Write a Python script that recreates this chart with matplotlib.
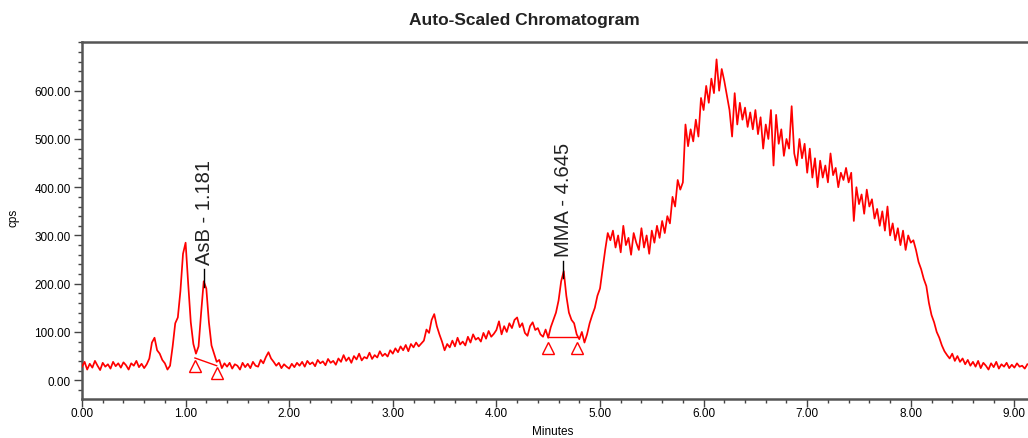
import matplotlib
matplotlib.use("Agg")
import matplotlib.pyplot as plt
from matplotlib.ticker import MultipleLocator, FormatStrFormatter
import numpy as np

# sampling step of the trace (minutes)
dt = 0.025

# detector signal (cps), one row per half minute
cps = [
    28, 38, 22, 34, 26, 40, 30, 21, 36, 28, 33, 24, 38, 29, 35, 26, 37, 31, 22, 35,
    30, 40, 27, 34, 25, 33, 45, 78, 88, 62, 55, 42, 35, 22, 30, 70, 118, 130, 185, 262,
    285, 200, 120, 75, 55, 70, 140, 205, 190, 120, 72, 55, 38, 42, 25, 35, 28, 36, 24, 33,
    30, 22, 36, 27, 34, 25, 38, 30, 28, 42, 35, 48, 58, 45, 38, 30, 36, 25, 33, 28,
    24, 34, 27, 36, 30, 38, 28, 40, 33, 37, 29, 42, 35, 39, 31, 44, 36, 40, 32, 45,
    38, 52, 40, 47, 36, 50, 43, 55, 41, 48, 45, 57, 44, 52, 47, 60, 50, 55, 49, 62,
    55, 66, 58, 70, 62, 73, 60, 75, 68, 78, 70, 76, 82, 105, 98, 125, 137, 112, 95, 80,
    62, 75, 68, 82, 70, 88, 74, 80, 72, 90, 78, 95, 84, 88, 80, 98, 86, 102, 90, 96,
    104, 122, 95, 112, 100, 118, 108, 125, 130, 110, 118, 98, 92, 112, 120, 104, 108, 95, 90, 105,
    88, 110, 125, 140, 165, 205, 226, 175, 140, 125, 118, 95, 85, 100, 78, 95, 118, 135, 150, 175,
    190, 230, 270, 305, 290, 310, 275, 300, 265, 320, 280, 295, 260, 305, 285, 270, 315, 275, 300, 262,
    310, 285, 320, 295, 330, 305, 340, 325, 380, 360, 415, 395, 410, 530, 485, 520, 495, 540, 505, 585,
    560, 610, 575, 625, 595, 665, 600, 645, 620, 590, 560, 505, 595, 530, 575, 540, 565, 525, 555, 520,
    560, 510, 545, 480, 530, 500, 560, 445, 550, 490, 520, 465, 500, 480, 568, 470, 445, 500, 460, 490,
    430, 480, 420, 460, 400, 455, 420, 445, 410, 470, 425, 440, 400, 430, 415, 440, 410, 430, 330, 400,
    365, 385, 345, 395, 360, 375, 335, 355, 320, 350, 310, 360, 300, 325, 290, 315, 280, 310, 270, 300,
    285, 290, 270, 245, 230, 210, 195, 160, 135, 120, 100, 88, 72, 60, 52, 45, 55, 40, 50, 38,
    45, 33, 42, 30, 38, 28, 40, 25, 36, 30, 22, 35, 27, 38, 24, 33, 28, 36, 25, 32,
    26, 35, 28, 30, 24, 33,
]

# identified peaks
peak_names = ["AsB", "MMA"]
peak_times = [1.181, 4.645]
peak_heights = [209, 226]

# integration baselines (start, end) for each peak
base_t = [(1.09, 1.30), (4.50, 4.78)]
base_v = [(46, 30), (89, 89)]
tri_v = [(30, 14), (66, 66)]

t = np.arange(len(cps)) * dt

plt.rcParams['font.family'] = ['Liberation Sans', 'DejaVu Sans']

fig = plt.figure(figsize=(10.28, 4.39), dpi=100)
ax = fig.add_axes([82 / 1028, 1 - 400 / 439, 1 - 82 / 1028, (400 - 43) / 439])

ax.plot(t, cps, color='red', lw=1.25, zorder=3)

for (t0, t1), (v0, v1), (m0, m1) in zip(base_t, base_v, tri_v):
    ax.plot([t0, t1], [v0, v1], color='red', lw=1.0, zorder=3)
    ax.plot([t0, t1], [m0, m1], ls='none', marker='^', ms=9,
            mfc='none', mec='red', mew=1.0, zorder=4)

for name, pt, ph in zip(peak_names, peak_times, peak_heights):
    ax.plot([pt, pt], [ph - 15, ph + 22], color='black', lw=1.0, zorder=5)
    ax.text(pt, ph + 31, f"{name} - {pt:.3f}", rotation=90, ha='center',
            va='bottom', fontsize=14.5, color='#222222')

ax.set_xlim(0, (1028 - 82) / 103.6)
ax.set_ylim(-39, 701)

ax.xaxis.set_major_locator(MultipleLocator(1))
ax.xaxis.set_minor_locator(MultipleLocator(0.2))
ax.yaxis.set_major_locator(MultipleLocator(100))
ax.yaxis.set_minor_locator(MultipleLocator(20))
ax.xaxis.set_major_formatter(FormatStrFormatter('%.2f'))
ax.yaxis.set_major_formatter(FormatStrFormatter('%.2f'))
ax.set_yticks([v for v in range(0, 601, 100)])

ax.tick_params(which='major', length=6, width=1.0, color='#444444',
               labelsize=8.5, pad=2)
ax.tick_params(axis='x', which='major', pad=0)
ax.tick_params(which='minor', length=3, width=1.0, color='#444444')

for side in ['left', 'bottom', 'top']:
    ax.spines[side].set_linewidth(1.8)
    ax.spines[side].set_color('#555555')
ax.spines['right'].set_visible(False)

fig.text(524 / 1028, 1 - 20 / 439, "Auto-Scaled Chromatogram", ha='center',
         va='center', fontsize=12.5, fontweight='bold', color='#222222')
fig.text(14 / 1028, 1 - 218 / 439, "cps", rotation=90, ha='center',
         va='center', fontsize=8.5)
fig.text(553 / 1028, 1 - 432 / 439, "Minutes", ha='center', va='center',
         fontsize=8.5)

fig.savefig("out.png", dpi=100)
